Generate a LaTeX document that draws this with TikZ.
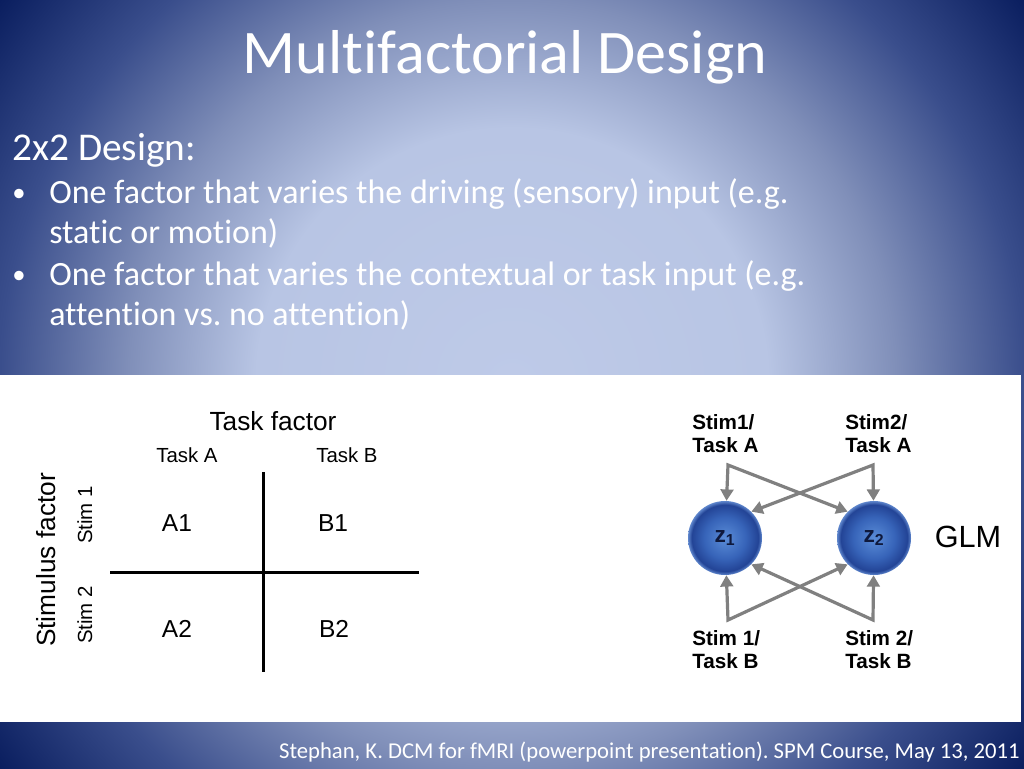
\documentclass[tikz,border=0pt]{standalone}
\usepackage{fontspec}
\setmainfont{Carlito}[Ligatures={NoCommon}]
\newfontfamily\arialfont{Liberation Sans}
\usetikzlibrary{arrows.meta}
\frenchspacing

\definecolor{glowcore}{RGB}{190,202,232}
\definecolor{glowlight}{RGB}{184,197,228}
\definecolor{glowmid}{RGB}{128,143,185}
\definecolor{glowdark}{RGB}{58,78,140}
\definecolor{glowedge}{RGB}{10,30,95}
\pgfdeclareradialshading{slideglow}{\pgfpoint{0bp}{0bp}}{color(0bp)=(glowcore); color(10bp)=(glowlight); color(15bp)=(glowmid); color(20bp)=(glowdark); color(25bp)=(glowedge); color(50bp)=(glowedge)}

\definecolor{ballcore}{RGB}{90,140,215}
\definecolor{ballmid}{RGB}{55,100,185}
\definecolor{balledge}{RGB}{35,68,150}
\definecolor{ballrim}{RGB}{95,135,205}
\pgfdeclareradialshading{sphereglow}{\pgfpoint{0bp}{0bp}}{color(0bp)=(ballcore); color(14bp)=(ballmid); color(22.5bp)=(balledge); color(25bp)=(ballrim); color(50bp)=(ballrim)}

\definecolor{arrowgray}{RGB}{128,128,128}
\definecolor{zlabel}{RGB}{15,25,60}

\begin{document}
\begin{tikzpicture}[x=0.75pt, y=-0.75pt,
  title/.style={text=white, font=\fontsize{46.5}{56}\selectfont, inner sep=0, anchor=base},
  body/.style={text=white, font=\fontsize{25.5}{31}\selectfont, inner sep=0, anchor=base west},
  cite/.style={text=white, font=\fontsize{17}{20}\selectfont, inner sep=0, anchor=base east},
  head/.style={font=\arialfont\fontsize{19.7}{23}\selectfont, inner sep=0, anchor=base},
  level/.style={font=\arialfont\fontsize{15.3}{18}\selectfont, inner sep=0, anchor=base},
  cell/.style={font=\arialfont\fontsize{18.4}{22}\selectfont, inner sep=0, anchor=base},
  axis/.style={line width=2.25pt},
  sphere/.style={circle, minimum size=55.5pt, inner sep=0, shade, shading=sphereglow, font=\arialfont\bfseries\fontsize{17}{19}\selectfont, text=zlabel},
  cond/.style={font=\arialfont\bfseries\fontsize{15.5}{17.3}\selectfont, align=left, inner sep=0, anchor=north west},
  flow/.style={draw=arrowgray, line width=2.4pt, {Triangle[length=8.5pt 0, width=9.5pt 0]}-{Triangle[length=8.5pt 0, width=9.5pt 0]}},
]

\useasboundingbox (0,0) rectangle (1024,768);

% slide background
\begin{scope}
\clip (0,0) rectangle (1024,768);
\shade[shading=slideglow] (-128,-256) rectangle (1152,1024);
\end{scope}
\fill[white] (0,375) rectangle (1021,722);

% slide text
\node[title] (title) at (505,73) {Multifactorial Design};
\node[body, font=\fontsize{29.5}{35}\selectfont] (intro) at (12,160) {2x2 Design:};
\node[body, font=\fontsize{20}{24}\selectfont] (dot_1) at (12,201) {•};
\node[body] (item_1a) at (49,203) {One factor that varies the driving (sensory) input (e.g.};
\node[body] (item_1b) at (49,243) {static or motion)};
\node[body, font=\fontsize{20}{24}\selectfont] (dot_2) at (12,283) {•};
\node[body] (item_2a) at (49,285) {One factor that varies the contextual or task input (e.g.};
\node[body] (item_2b) at (49,325) {attention vs. no attention)};
\node[cite] (cite) at (1020,758) {Stephan, K. DCM for fMRI (powerpoint presentation). SPM Course, May 13, 2011};

% 2x2 table
\node[head] (task_f) at (273,430) {Task factor};
\node[level] (task_a) at (187,462) {Task A};
\node[level] (task_b) at (347,462) {Task B};
\node[head, rotate=90] (stim_f) at (55,560) {Stimulus factor};
\node[level, rotate=90] (stim_1) at (92,515) {Stim 1};
\node[level, rotate=90] (stim_2) at (92,615) {Stim 2};

\node[cell] (cell_a1) at (177,531) {A1};
\node[cell] (cell_b1) at (333,531) {B1};
\node[cell] (cell_a2) at (177,637) {A2};
\node[cell] (cell_b2) at (334,637) {B2};

\coordinate (grid_t) at (263,472);
\coordinate (grid_b) at (263,672);
\coordinate (grid_l) at (110,572);
\coordinate (grid_r) at (419,572);
\draw[axis] (grid_t)--(grid_b);
\draw[axis] (grid_l)--(grid_r);

% GLM
\node[sphere] (z_1) at (725,538) {z\textsubscript{1}};
\node[sphere] (z_2) at (874,538) {z\textsubscript{2}};
\node[font=\arialfont\fontsize{23}{27}\selectfont, inner sep=0] (glm) at (968,537) {GLM};

\node[cond] (in_1) at (692,414) {Stim1/\\Task A};
\node[cond] (in_2) at (845,414) {Stim2/\\Task A};
\node[cond] (in_3) at (692,630) {Stim 1/\\Task B};
\node[cond] (in_4) at (845,630) {Stim 2/\\Task B};

\coordinate (jt_1) at (728,465);
\coordinate (jt_2) at (873,465);
\coordinate (jb_1) at (728,620);
\coordinate (jb_2) at (873,620);

\draw[flow] (z_1)--(jt_1)--(z_2.north west);
\draw[flow] (z_2)--(jt_2)--(z_1.north east);
\draw[flow] (z_1)--(jb_1)--(z_2.south west);
\draw[flow] (z_2)--(jb_2)--(z_1.south east);

\end{tikzpicture}
\end{document}
